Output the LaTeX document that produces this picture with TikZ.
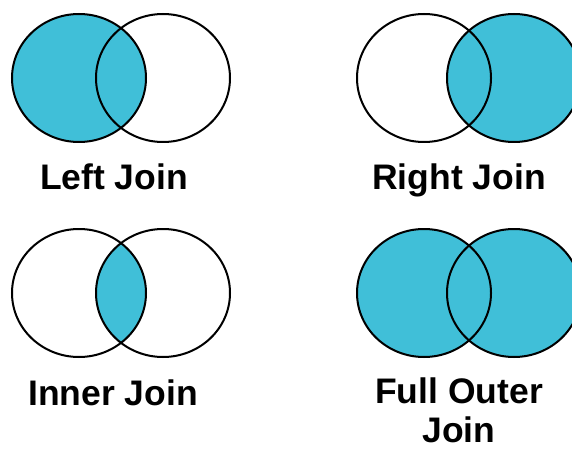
\documentclass[tikz,border=0pt]{standalone}
\usepackage{fontspec}
\setmainfont{Liberation Sans}
\definecolor{joinfill}{RGB}{64,191,216}
\begin{document}
\begin{tikzpicture}[x=1pt, y=-1pt,
  set/.style={draw=black, line width=2pt},
  lbl/.style={anchor=base, align=center, inner sep=0pt,
              font=\fontsize{35.5}{39}\selectfont\bfseries}
]
  \useasboundingbox (0,0) rectangle (572,449);
  \clip (0,0) rectangle (572,449);
  % Left join
  \fill[joinfill] (79,78) ellipse [x radius=67pt, y radius=64pt];
  \foreach \cx in {79,163} {
    \draw[set] (\cx,78) ellipse [x radius=67pt, y radius=64pt];
  }
  \node[lbl] (leftjoin) at (114,189) {Left Join};
  % Right join
  \fill[joinfill] (514,78) ellipse [x radius=67pt, y radius=64pt];
  \foreach \cx in {424,514} {
    \draw[set] (\cx,78) ellipse [x radius=67pt, y radius=64pt];
  }
  \node[lbl] (rightjoin) at (459,189) {Right Join};
  % Inner join
  \begin{scope}
    \clip (79,293) ellipse [x radius=67pt, y radius=64pt];
    \fill[joinfill] (163,293) ellipse [x radius=67pt, y radius=64pt];
  \end{scope}
  \foreach \cx in {79,163} {
    \draw[set] (\cx,293) ellipse [x radius=67pt, y radius=64pt];
  }
  \node[lbl] (innerjoin) at (113,405) {Inner Join};
  % Full outer join
  \foreach \cx in {424,514} {
    \fill[joinfill] (\cx,293) ellipse [x radius=67pt, y radius=64pt];
  }
  \foreach \cx in {424,514} {
    \draw[set] (\cx,293) ellipse [x radius=67pt, y radius=64pt];
  }
  \node[lbl] (fulljoin) at (459,442) {Full Outer\\Join};
\end{tikzpicture}
\end{document}
